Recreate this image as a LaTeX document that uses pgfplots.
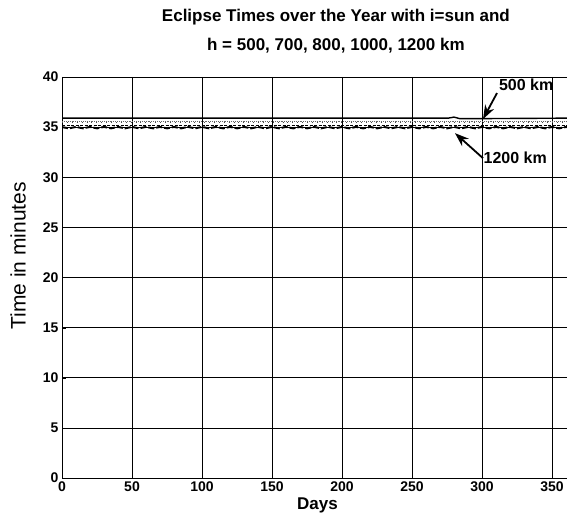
\documentclass[border=0pt]{standalone}
\usepackage{pgfplots}
\pgfplotsset{compat=1.18}
\usetikzlibrary{arrows.meta}
\usepackage{fontspec}
\setmainfont{Liberation Sans}
\begin{document}
\begin{tikzpicture}
\begin{axis}[
  scale only axis,
  width=511pt, height=401pt,
  xmin=0, xmax=365, ymin=0, ymax=40,
  xtick={0,50,...,350}, ytick={0,5,...,40},
  grid=major, major grid style={black, line width=0.7pt},
  axis line style={black, line width=0.9pt},
  tick style={black},
  tick align=inside,
  /pgf/number format/assume math mode=true,
  ticklabel style={font=\fontsize{14}{15}\selectfont\bfseries},
  xlabel={Days}, ylabel={Time in minutes},
  xlabel style={font=\fontsize{17}{18}\selectfont\bfseries, at={(axis description cs:0.5,-0.068)}, anchor=center},
  ylabel style={font=\fontsize{21}{22}\selectfont, at={(axis description cs:-0.086,0.554)}, anchor=center},
  title={Eclipse Times over the Year with i=sun and\\[10pt] h = 500, 700, 800, 1000, 1200 km},
  title style={font=\fontsize{17}{19}\selectfont\bfseries, align=center, at={(axis description cs:0.536,1)}, anchor=center, yshift=40pt},
  clip=true,
]
% 500 km
\addplot[black, line width=1.4pt] coordinates {(0,35.9) (276,35.9) (280,36.0) (284,35.85) (300,35.85) (365,35.9)};
% 700 km
\addplot[black!60, line width=0.9pt, densely dotted] coordinates {(0,35.55) (365,35.55)};
% 800 km
\addplot[black!70, line width=0.9pt, loosely dotted] coordinates {(0,35.45) (365,35.45)};
% 1000 km
\addplot[black, line width=1.0pt, dash pattern=on 3pt off 1.5pt] coordinates {(0,35.2) (365,35.2)};
% 1200 km
\addplot[black, line width=2pt, dash pattern=on 6pt off 2pt] coordinates {
(0,35.00) (5,34.88) (10,35.02) (15,34.88) (20,35.02) (25,34.88) (30,35.02) (35,34.88) (40,35.02) (45,34.88)
(50,35.02) (55,34.88) (60,35.02) (65,34.88) (70,35.02) (75,34.88) (80,35.02) (85,34.88) (90,35.02) (95,34.88)
(100,35.02) (105,34.88) (110,35.02) (115,34.88) (120,35.02) (125,34.88) (130,35.02) (135,34.88) (140,35.02) (145,34.88)
(150,35.02) (155,34.88) (160,35.02) (165,34.88) (170,35.02) (175,34.88) (180,35.02) (185,34.88) (190,35.02) (195,34.88)
(200,35.02) (205,34.88) (210,35.02) (215,34.88) (220,35.02) (225,34.88) (230,35.02) (235,34.88) (240,35.02) (245,34.88)
(250,35.02) (255,34.88) (260,35.02) (265,34.88) (270,35.02) (275,34.88) (280,35.02) (285,34.88) (290,35.02) (295,34.88)
(300,35.02) (305,34.88) (310,35.02) (315,34.88) (320,35.02) (325,34.88) (330,35.02) (335,34.88) (340,35.02) (345,34.88)
(350,35.02) (355,34.88) (360,35.02) (365,34.90)};
% annotations
\draw[-{Stealth[length=14pt,width=10pt]}, line width=1.8pt] (axis cs:310.7,38.4) -- (axis cs:300.7,35.8);
\node[anchor=west, font=\fontsize{16}{17}\selectfont\bfseries, inner sep=0pt] at (axis cs:312,39.2) {500 km};
\draw[-{Stealth[length=14pt,width=10pt]}, line width=1.8pt] (axis cs:300.7,31.9) -- (axis cs:280.7,34.4);
\node[anchor=west, font=\fontsize{16}{17}\selectfont\bfseries, inner sep=0pt] at (axis cs:301,31.9) {1200 km};
\coordinate (R) at (axis cs:360.7,40);
\coordinate (SW) at (axis cs:0,0);
\end{axis}
\pgfresetboundingbox
\path ([xshift=-62pt,yshift=-43pt]SW) rectangle ([yshift=77pt]R);
\end{tikzpicture}
\end{document}
